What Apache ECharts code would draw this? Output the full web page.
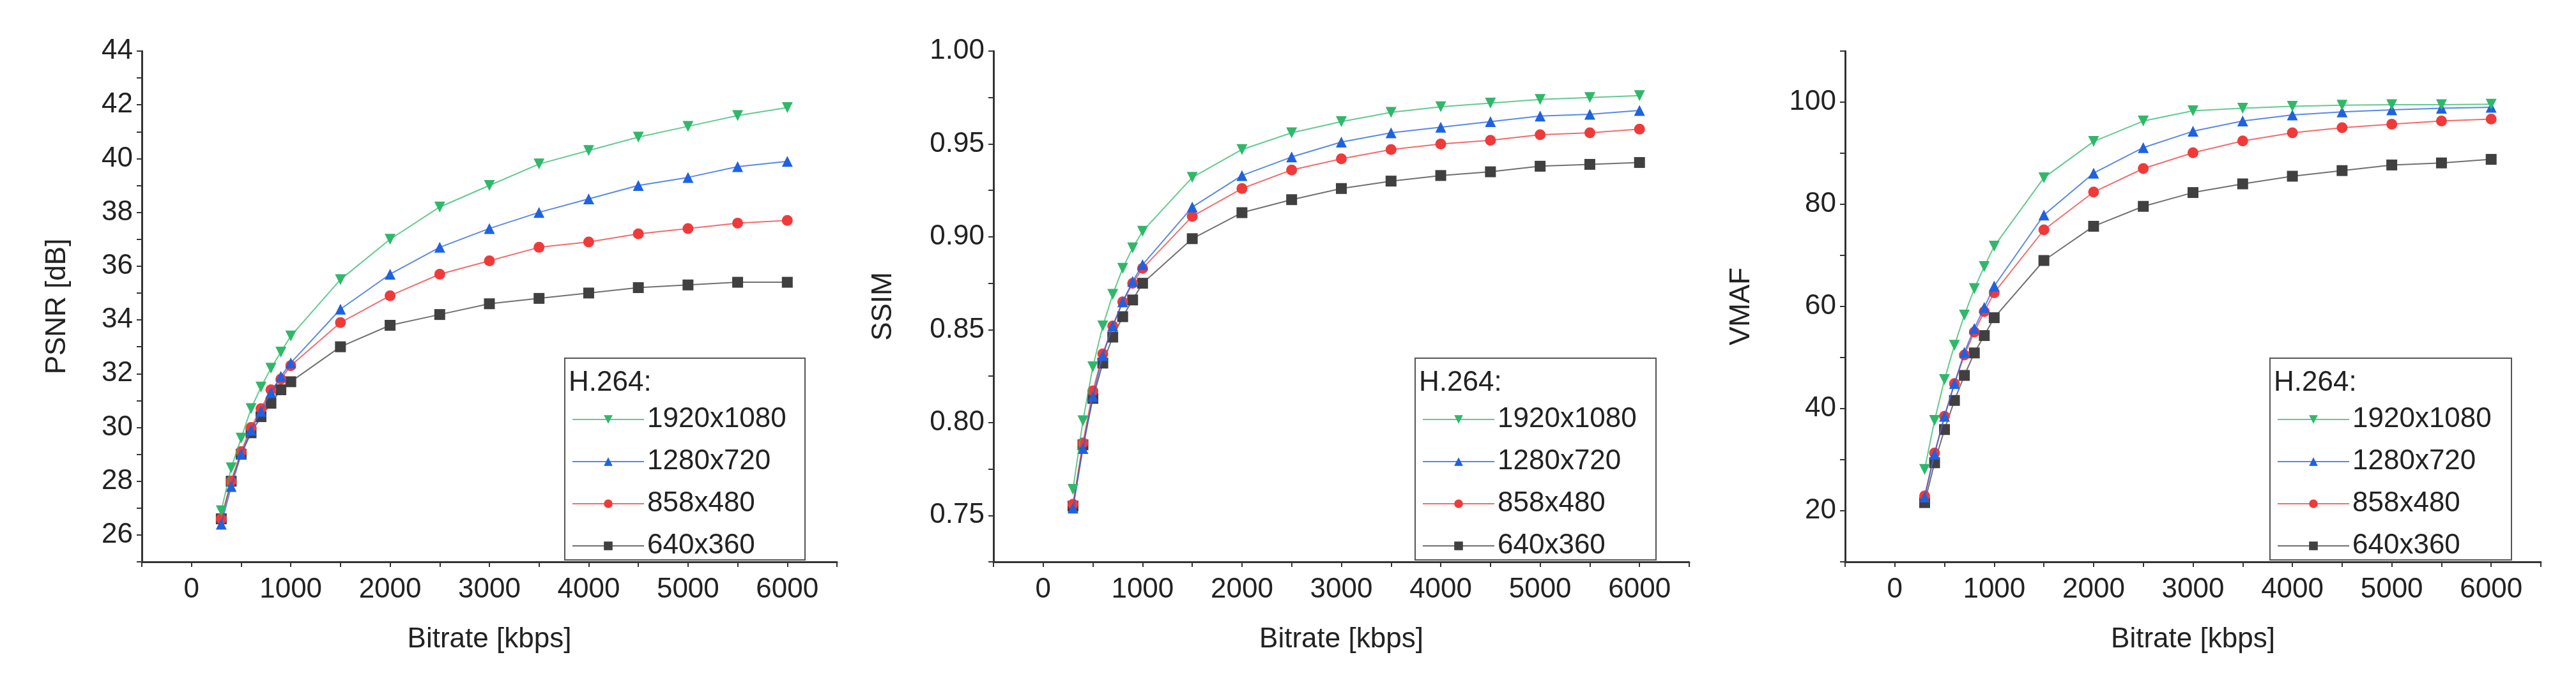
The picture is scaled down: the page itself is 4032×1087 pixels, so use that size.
<!DOCTYPE html>
<html>
<head>
<meta charset="utf-8">
<script src="https://cdn.jsdelivr.net/npm/echarts@6/dist/echarts.min.js"></script>
<style>html,body{margin:0;background:#fff}#c{width:4032px;height:1087px}</style>
</head>
<body>
<div id="c"></div>
<script>
// bitrate points (kbps)
const bitrates = [300, 400, 500, 600, 700, 800, 900, 1000, 1500, 2000, 2500, 3000, 3500, 4000, 4500, 5000, 5500, 6000]
const resolutions = ['1920x1080', '1280x720', '858x480', '640x360']

const psnr1080 = [26.9, 28.5, 29.6, 30.7, 31.5, 32.2, 32.8, 33.4, 35.5, 37.0, 38.2, 39.0, 39.8, 40.3, 40.8, 41.2, 41.6, 41.9]
const psnr720 = [26.4, 27.8, 29.0, 29.9, 30.6, 31.3, 31.9, 32.4, 34.4, 35.7, 36.7, 37.4, 38.0, 38.5, 39.0, 39.3, 39.7, 39.9]
const psnr480 = [26.6, 28.0, 29.1, 30.0, 30.7, 31.4, 31.8, 32.3, 33.9, 34.9, 35.7, 36.2, 36.7, 36.9, 37.2, 37.4, 37.6, 37.7]
const psnr360 = [26.6, 28.0, 29.0, 29.8, 30.4, 30.9, 31.4, 31.7, 33.0, 33.8, 34.2, 34.6, 34.8, 35.0, 35.2, 35.3, 35.4, 35.4]

const ssim1080 = [0.764, 0.801, 0.830, 0.852, 0.869, 0.883, 0.894, 0.903, 0.932, 0.947, 0.956, 0.962, 0.967, 0.970, 0.972, 0.974, 0.975, 0.976]
const ssim720 = [0.754, 0.786, 0.814, 0.836, 0.852, 0.865, 0.876, 0.885, 0.916, 0.933, 0.943, 0.951, 0.956, 0.959, 0.962, 0.965, 0.966, 0.968]
const ssim480 = [0.756, 0.789, 0.817, 0.837, 0.852, 0.865, 0.875, 0.883, 0.911, 0.926, 0.936, 0.942, 0.947, 0.950, 0.952, 0.955, 0.956, 0.958]
const ssim360 = [0.755, 0.788, 0.813, 0.832, 0.846, 0.857, 0.866, 0.875, 0.899, 0.913, 0.920, 0.926, 0.930, 0.933, 0.935, 0.938, 0.939, 0.940]

const vmaf1080 = [28.1, 37.7, 45.7, 52.4, 58.3, 63.5, 67.8, 71.8, 85.2, 92.3, 96.3, 98.3, 98.8, 99.2, 99.4, 99.5, 99.5, 99.6]
const vmaf720 = [22.7, 31.1, 38.5, 44.9, 51.0, 55.7, 59.8, 64.0, 77.9, 86.1, 91.1, 94.3, 96.3, 97.5, 98.1, 98.5, 98.8, 99.0]
const vmaf480 = [22.9, 31.3, 38.5, 44.9, 50.5, 55.0, 59.0, 62.7, 75.0, 82.4, 87.0, 90.1, 92.4, 94.0, 95.0, 95.7, 96.3, 96.7]
const vmaf360 = [21.6, 29.4, 35.9, 41.6, 46.5, 50.9, 54.3, 57.8, 69.0, 75.7, 79.6, 82.3, 84.0, 85.5, 86.6, 87.7, 88.1, 88.8]

const colors = ['#2fb86a', '#1f62e0', '#f03a3a', '#404040']
const symbols = ['triangle', 'triangle', 'circle', 'rect']
const FONT = 'Liberation Sans'

const panels = [
  { name: 'PSNR [dB]', data: [psnr1080, psnr720, psnr480, psnr360], left: 222, right: 1310, min: 25, max: 44, interval: 1,
    label: v => (v >= 26 && v % 2 === 0) ? String(v) : '', box: [884, 1260] },
  { name: 'SSIM', data: [ssim1080, ssim720, ssim480, ssim360], left: 1555, right: 2644, min: 0.725, max: 1.0, interval: 0.025,
    label: v => { const k = v * 20; return (Math.abs(k - Math.round(k)) < 1e-6 && v > 0.73) ? v.toFixed(2) : '' }, box: [2215, 2592] },
  { name: 'VMAF', data: [vmaf1080, vmaf720, vmaf480, vmaf360], left: 2888, right: 3977, min: 10, max: 110, interval: 10,
    label: v => (v >= 20 && v <= 100 && v % 20 === 0) ? String(v) : '', box: [3553, 3931] }
]

const chart = echarts.init(document.getElementById('c'))
const opt = { animation: false, backgroundColor: '#fff', grid: [], xAxis: [], yAxis: [], series: [], legend: [], graphic: [] }

panels.forEach((p, pi) => {
  opt.grid.push({ left: p.left, width: p.right - p.left, top: 80, height: 800 })
  opt.xAxis.push({
    gridIndex: pi, type: 'value', min: -500, max: 6500, interval: 500,
    name: 'Bitrate [kbps]', nameLocation: 'middle', nameGap: 100,
    nameTextStyle: { fontFamily: FONT, fontSize: 44, color: '#222' },
    axisLine: { onZero: false, lineStyle: { color: '#333', width: 3 } },
    axisTick: { length: 8, lineStyle: { color: '#333', width: 2 } },
    axisLabel: { fontFamily: FONT, fontSize: 44, color: '#222', margin: 22, formatter: v => (v >= 0 && v % 1000 === 0) ? String(v) : '' },
    splitLine: { show: false }
  })
  opt.yAxis.push({
    gridIndex: pi, type: 'value', min: p.min, max: p.max, interval: p.interval,
    name: p.name, nameLocation: 'middle', nameGap: pi === 0 ? 110 : (pi === 1 ? 150 : 140),
    nameTextStyle: { fontFamily: FONT, fontSize: 44, color: '#222' },
    axisLine: { show: true, onZero: false, lineStyle: { color: '#333', width: 3 } },
    axisTick: { length: 8, lineStyle: { color: '#333', width: 2 } },
    axisLabel: { fontFamily: FONT, fontSize: 44, color: '#222', margin: 14, formatter: p.label },
    splitLine: { show: false }
  })
  p.data.forEach((vals, si) => {
    opt.series.push({
      name: resolutions[si], type: 'line', xAxisIndex: pi, yAxisIndex: pi,
      data: bitrates.map((b, i) => [b, vals[i]]),
      symbol: symbols[si], symbolSize: 17, symbolRotate: si === 0 ? 180 : 0,
      color: colors[si],
      lineStyle: { width: 2, color: colors[si], opacity: 0.75 },
      itemStyle: { color: colors[si] },
      z: 10 - si
    })
  })
  const [bx0, bx1] = p.box
  opt.graphic.push({ type: 'rect', shape: { x: bx0, y: 561, width: bx1 - bx0, height: 316 },
    style: { fill: '#fff', stroke: '#555', lineWidth: 2 }, z: 50 })
  opt.graphic.push({ type: 'text', x: bx0 + 6, y: 578, z: 51,
    style: { text: 'H.264:', font: '44px "Liberation Sans"', fill: '#222' } })
  opt.legend.push({
    orient: 'vertical', left: bx0 + 6, top: 630, z: 60,
    itemWidth: 112, itemHeight: 17, itemGap: 22,
    textStyle: { fontFamily: FONT, fontSize: 44, color: '#222' },
    data: resolutions
  })
})

chart.setOption(opt)
</script>
</body>
</html>
